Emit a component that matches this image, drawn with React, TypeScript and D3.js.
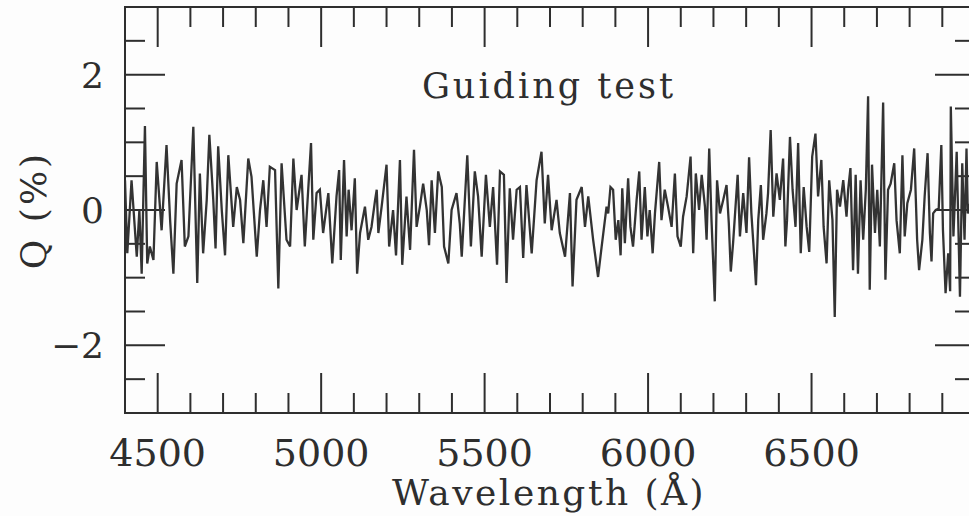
import * as d3 from "d3";

// Q (%), [wavelength Å, Q %]
const segBlue: [number, number][] = [
  [4400, 0.44], [4407, -0.64], [4420, 0.44], [4436, -0.69], [4444, 0], [4451, -0.94],
  [4461, 1.24], [4468, -0.79], [4476, -0.54], [4487, -0.74], [4497, 0.71], [4512, -0.3],
  [4527, 0.96], [4538, -0.15], [4548, -0.94], [4558, 0.39], [4573, 0.74], [4583, -0.54],
  [4594, -0.39], [4609, 1.23], [4621, -1.08], [4629, 0.54], [4639, -0.64], [4650, 0.15],
  [4658, 1.11], [4670, 0.15], [4677, -0.57], [4685, 0.94], [4696, 0], [4706, -0.67],
  [4716, 0.81], [4731, -0.25], [4742, 0.34], [4752, 0.15], [4762, -0.49], [4777, 0.76],
  [4787, 0.49], [4803, -0.69], [4813, 0], [4823, 0.44], [4833, -0.25], [4843, 0.64],
  [4859, 0.59], [4869, -1.16], [4879, 0.69], [4894, -0.44], [4905, -0.54], [4915, 0.76],
  [4925, 0], [4940, 0.52], [4950, -0.54], [4969, 0.99], [4976, -0.44], [4986, 0.25],
  [4996, 0.3], [5006, -0.34], [5022, 0.25], [5034, -0.79], [5047, 0.2], [5055, 0.59],
  [5060, -0.74], [5070, 0.74], [5078, -0.39], [5084, 0.3], [5093, -0.3], [5103, 0.47],
  [5110, -0.94], [5119, -0.34],
];

const segGreen: [number, number][] = [
  [5134, 0.05], [5144, -0.44], [5154, -0.25], [5165, 0.15], [5170, 0.3], [5175, -0.34],
  [5185, 0.05], [5200, 0.67], [5208, -0.54], [5220, 0], [5229, -0.67], [5241, 0.74],
  [5248, -0.81], [5261, 0.2], [5272, -0.59], [5284, 0.89], [5292, -0.25], [5302, 0.05],
  [5312, 0.39], [5323, 0], [5330, -0.52], [5338, 0.44], [5348, -0.34], [5358, 0.57],
  [5369, 0.34], [5376, -0.54], [5389, -0.79], [5399, 0], [5414, 0.25], [5424, -0.2],
  [5430, -0.69], [5447, 0.81], [5458, -0.54], [5470, 0.57], [5480, 0.2], [5491, -0.69],
  [5504, 0.52], [5516, -0.25], [5526, 0.34], [5538, -0.81], [5547, 0.57], [5559, 0.52],
  [5567, -1.08], [5577, 0.32], [5587, -0.44], [5598, 0.3], [5608, 0.34], [5618, -0.71],
  [5628, 0.37], [5644, -0.64], [5659, 0.44], [5674, 0.86], [5684, -0.2], [5694, 0.52],
  [5705, -0.3], [5720, 0.15], [5730, -0.34], [5746, -0.69], [5761, 0.25], [5769, -1.13],
  [5781, 0.15], [5797, 0.34], [5807, -0.25], [5817, 0.2], [5832, -0.44], [5847, -0.99],
  [5858, -0.54], [5873, 0.05],
];

const segYellow: [number, number][] = [
  [5878, -0.05], [5885, 0.34], [5893, 0.3], [5901, -0.44], [5909, -0.15], [5916, -0.67],
  [5921, 0.32], [5929, -0.49], [5939, 0.47], [5946, -0.25], [5954, -0.54], [5965, 0.15],
  [5973, 0.57], [5980, -0.44], [5990, 0.34], [5998, -0.39], [6005, 0], [6014, -0.64],
  [6021, -0.05], [6034, 0.71], [6041, -0.15], [6051, 0.3], [6061, 0.05], [6072, -0.25],
  [6082, 0.54], [6090, -0.39], [6100, -0.54], [6107, -0.1], [6118, 0.2], [6130, 0.79],
  [6138, -0.64], [6146, 0.54], [6156, 0], [6164, 0.52], [6174, 0.05], [6179, -0.44],
  [6187, 0.91], [6194, -0.15], [6204, -1.35], [6211, 0.44], [6220, -0.05], [6230, 0.15],
  [6240, 0.37], [6247, -0.2], [6253, -0.91], [6260, -0.49], [6274, 0.52], [6281, -0.39],
  [6291, 0.25], [6301, -0.34], [6309, 0.78], [6316, -0.05], [6324, -0.64], [6330, -1.11],
  [6337, -0.15], [6345, 0.37], [6352, -0.44], [6362, -0.05], [6367, 0.25], [6375, 1.18],
  [6383, -0.1], [6393, 0.54], [6403, 0.15], [6413, 0.76], [6420, -0.54], [6425, -0.15],
  [6434, 1.08], [6442, 0.3], [6451, -0.25], [6459, 0.99], [6467, -0.64], [6476, 0.34],
  [6485, -0.25], [6493, -0.62], [6502, 0.79], [6512, 1.13], [6520, 0.2], [6530, 0.74],
  [6537, -0.25], [6546, -0.79], [6554, 0.44], [6564, -0.15], [6571, -1.58], [6578, 0.3],
  [6587, 0.05], [6597, 0.44], [6607, -0.1],
];

const segRed: [number, number][] = [
  [6612, 0.3], [6619, 0.62], [6627, -0.89], [6635, 0.52], [6642, -0.94], [6650, 0.44],
  [6658, -0.44], [6666, 0.3], [6673, 1.68], [6678, -1.18], [6685, 0.67], [6694, -0.34],
  [6701, 0.3], [6709, -0.54], [6719, 1.59], [6726, -1.03], [6734, 0.3], [6742, 0.39],
  [6753, 0.69], [6760, -0.15], [6770, -0.64], [6778, 0.81], [6785, -0.39], [6793, 0.1],
  [6804, 0.3], [6814, 0.91], [6823, -0.44], [6829, -0.89], [6839, -0.44], [6846, 0.2],
  [6855, 0.84], [6862, -0.34], [6867, -0.76], [6872, -0.05], [6880, 0], [6889, 0.02],
  [6897, 0.96], [6902, -0.3], [6910, -1.23], [6918, -0.64], [6924, -1.2], [6926, 1.53],
  [6934, -0.39], [6944, 0.86], [6954, -1.28], [6961, 0.69], [6968, -0.44], [6974, 0.91],
  [6978, -0.05], [6990, 0.2],
];

const xMajorLabels = [4500, 5000, 5500, 6000, 6500];
const yMajorLabels = [-2, 0, 2];
const title = "Guiding test";
const xTitle = "Wavelength (Å)";
const yTitle = "Q (%)";

const W = 969;
const H = 516;
const ink = "#2e2e2e";
const font = "'DejaVu Serif', serif";

export default function App() {
  const left = 125, right = 975, top = 7, bottom = 413;
  const x = d3.scaleLinear().domain([4400, 7000]).range([left, right]);
  const y = d3.scaleLinear().domain([-3, 3]).range([bottom, top]);

  const spectrum = [...segBlue, ...segGreen, ...segYellow, ...segRed];
  const path = d3
    .line<[number, number]>()
    .x((d) => x(d[0]))
    .y((d) => y(d[1]))(spectrum);

  const xTicks = d3.range(4500, 7000, 100);
  const yTicks = d3.range(-2.5, 3, 0.5);
  const isXMajor = (v: number) => v % 500 === 0;
  const isYMajor = (v: number) => Math.abs(v % 2) < 1e-9;

  return (
    <svg
      width={W}
      height={H}
      style={{ position: "absolute", left: 0, top: 0, background: "#fdfdfd" }}
    >
      <defs>
        <clipPath id="plot">
          <rect x={left} y={top} width={right - left} height={bottom - top} />
        </clipPath>
      </defs>

      {/* frame */}
      <rect
        x={left}
        y={top}
        width={right - left}
        height={bottom - top}
        fill="none"
        stroke={ink}
        strokeWidth={2}
      />

      {/* x ticks top and bottom */}
      {xTicks.map((v) => {
        const len = isXMajor(v) ? 40 : 20;
        return (
          <g key={"x" + v} stroke={ink} strokeWidth={2}>
            <line x1={x(v)} x2={x(v)} y1={bottom} y2={bottom - len} />
            <line x1={x(v)} x2={x(v)} y1={top} y2={top + len} />
          </g>
        );
      })}

      {/* y ticks left and right */}
      {yTicks.map((v) => {
        const len = isYMajor(v) ? 40 : 20;
        return (
          <g key={"y" + v} stroke={ink} strokeWidth={2}>
            <line x1={left} x2={left + len} y1={y(v)} y2={y(v)} />
            <line x1={right} x2={right - len} y1={y(v)} y2={y(v)} />
          </g>
        );
      })}

      {/* spectrum */}
      <path
        d={path ?? ""}
        fill="none"
        stroke="#333"
        strokeWidth={2.3}
        strokeLinejoin="miter"
        strokeMiterlimit={3}
        clipPath="url(#plot)"
      />

      {/* tick labels */}
      {xMajorLabels.map((v) => (
        <text
          key={"xl" + v}
          x={x(v)}
          y={466}
          textAnchor="middle"
          fontFamily={font}
          fontSize={38}
          fill={ink}
        >
          {v}
        </text>
      ))}
      {yMajorLabels.map((v) => (
        <text
          key={"yl" + v}
          x={104}
          y={y(v)}
          dy="0.36em"
          textAnchor="end"
          fontFamily={font}
          fontSize={36}
          fill={ink}
        >
          {v < 0 ? "\u2212" + Math.abs(v) : v}
        </text>
      ))}

      <text
        x={549}
        y={98}
        textAnchor="middle"
        fontFamily={font}
        fontSize={35}
        letterSpacing={3}
        fill={ink}
      >
        {title}
      </text>
      <text
        x={549}
        y={505}
        textAnchor="middle"
        fontFamily={font}
        fontSize={36}
        letterSpacing={2.5}
        fill={ink}
      >
        {xTitle}
      </text>
      <text
        transform={`translate(46,${y(0)}) rotate(-90)`}
        textAnchor="middle"
        fontFamily={font}
        fontSize={36}
        letterSpacing={3}
        fill={ink}
      >
        {yTitle}
      </text>
    </svg>
  );
}
